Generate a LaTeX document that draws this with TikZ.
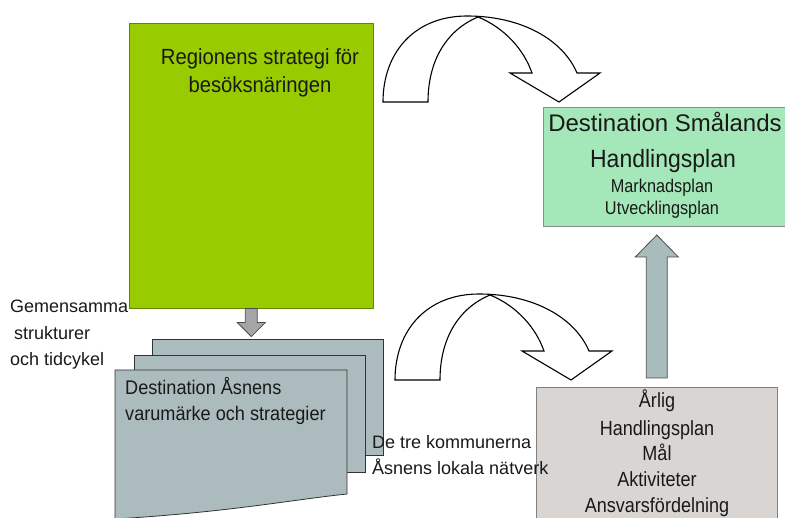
\documentclass[tikz,border=0pt]{standalone}
\usepackage{fontspec}
\setmainfont{Liberation Sans}
\newfontfamily\narrowfont{Liberation Sans}[FakeStretch=0.88]
\newfontfamily\semifont{Liberation Sans}[FakeStretch=0.92]
\definecolor{limegreen}{RGB}{153,204,0}
\definecolor{mintgreen}{RGB}{164,232,186}
\definecolor{sheetcol}{RGB}{172,188,190}
\definecolor{boxgray}{RGB}{216,213,210}
\definecolor{uparrowcol}{RGB}{168,188,188}
\definecolor{downarrowcol}{RGB}{165,165,165}
\newcommand{\setfs}[1]{\fontsize{#1pt}{#1pt}\selectfont}
\tikzset{
  boxnode/.style={rectangle, anchor=north west, inner sep=0pt, line width=0.6pt},
  txt/.style={anchor=base, inner sep=0pt, text=black!90},
  ltxt/.style={anchor=base west, inner sep=0pt, text=black!90},
  sheetstyle/.style={fill=sheetcol, draw=black!80, line width=0.8pt},
  blockarrow/.style={draw=black!70, line width=0.8pt, line join=miter},
  bendarrow/.pic={
    \draw[fill=white, draw=black, line width=1.1pt, line join=miter]
      (383,102) -- (428,102)
      .. controls (428,60) and (447,30) .. (478,17)
      .. controls (505,28) and (524,50) .. (532,73)
      -- (510,73) -- (559,102) -- (600,73) -- (577,73)
      .. controls (563,40) and (522,16) .. (467,16)
      .. controls (415,16) and (383,52) .. (383,102) -- cycle;
  }
}
\begin{document}
\begin{tikzpicture}[x=1pt,y=-1pt]
\useasboundingbox (0,0) rectangle (785,518);

% boxes
\node[boxnode, fill=limegreen, draw=limegreen!65!black, minimum width=244pt, minimum height=285pt] (region) at (129,23) {};
\node[boxnode, fill=mintgreen, draw=black!45, minimum width=244pt, minimum height=119pt] (smaland) at (543,107) {};
\node[boxnode, fill=boxgray, draw=black!50, minimum width=241pt, minimum height=140pt] (arlig) at (536,387) {};

% curved arrows
\pic (bendtop) at (0,0) {bendarrow};
\pic (bendbot) at (12,278) {bendarrow};

% document stack
\draw[sheetstyle] (152,339) rectangle (383,455);
\draw[sheetstyle] (134,355) rectangle (365,472);
\draw[sheetstyle] (115,370) -- (347,370) -- (347,494)
  .. controls (290,500) and (230,512) .. (115,519) -- cycle;

% small down arrow
\draw[blockarrow, fill=downarrowcol, shift={(region.south)}]
  (-6,0) -- (-6,14) -- (-14,14) -- (0,28) -- (14,14) -- (6,14) -- (6,0) -- cycle;

% up arrow
\draw[blockarrow, fill=uparrowcol, shift={(arlig.north)}]
  (-10.5,-9) -- (-10.5,-130) -- (-21.5,-130) -- (0,-152) -- (21.5,-130) -- (10.5,-130) -- (10.5,-9) -- cycle;

% texts
\node[txt, font=\semifont\setfs{22}] (reg1) at (260,65) {Regionens strategi för};
\node[txt, font=\semifont\setfs{22}] (reg2) at (260,93) {besöksnäringen};

\node[txt, font=\setfs{24}] (sm1) at (665,132) {Destination Smålands};
\node[txt, font=\semifont\setfs{25}] (sm2) at (663,168) {Handlingsplan};
\node[txt, font=\narrowfont\setfs{18.5}] (sm3) at (662,193) {Marknadsplan};
\node[txt, font=\narrowfont\setfs{18.5}] (sm4) at (662,215) {Utvecklingsplan};

\node[txt, font=\narrowfont\setfs{20.5}] (ar1) at (657,408) {Årlig};
\node[txt, font=\narrowfont\setfs{20.5}] (ar2) at (657,436) {Handlingsplan};
\node[txt, font=\narrowfont\setfs{20.5}] (ar3) at (657,461) {Mål};
\node[txt, font=\narrowfont\setfs{20.5}] (ar4) at (657,487) {Aktiviteter};
\node[txt, font=\narrowfont\setfs{20.5}] (ar5) at (657,513) {Ansvarsfördelning};

\node[ltxt, font=\setfs{18}] (gem1) at (10,312.5) {Gemensamma};
\node[ltxt, font=\setfs{18}] (gem2) at (14,339.5) {strukturer};
\node[ltxt, font=\setfs{18}] (gem3) at (10,365.5) {och tidcykel};

\node[ltxt, font=\semifont\setfs{19.7}] (as1) at (125,395) {Destination Åsnens};
\node[ltxt, font=\semifont\setfs{19.7}] (as2) at (125,421) {varumärke och strategier};

\node[ltxt, font=\setfs{18}] (kom1) at (372,449) {De tre kommunerna};
\node[ltxt, font=\setfs{18}] (kom2) at (372,475) {Åsnens lokala nätverk};
\end{tikzpicture}
\end{document}
